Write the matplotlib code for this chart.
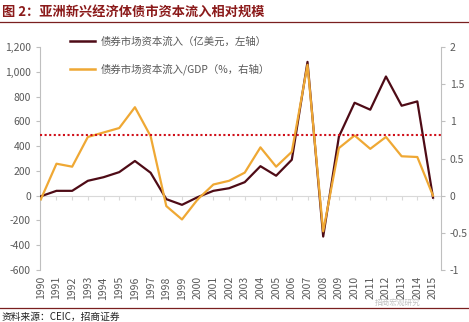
import matplotlib
matplotlib.use('Agg')
import matplotlib.pyplot as plt
from matplotlib.lines import Line2D
from matplotlib.ticker import FuncFormatter

plt.rcParams['font.family'] = ['Noto Sans CJK SC', 'DejaVu Sans']

years = list(range(1990, 2016))
# bond market capital inflow, 100 million USD (left axis)
inflow = [-5, 39, 39, 120, 149, 190, 280, 185, -28, -74, -12, 39, 60, 109,
          238, 161, 290, 1080, -330, 476, 750, 694, 962, 726, 761, -16]
# bond market capital inflow / GDP, % (right axis)
inflow_gdp = [-0.05, 0.43, 0.39, 0.79, 0.85, 0.91, 1.19, 0.80, -0.14, -0.32,
              -0.05, 0.15, 0.20, 0.31, 0.65, 0.39, 0.59, 1.76, -0.48, 0.64,
              0.81, 0.63, 0.79, 0.53, 0.52, 0.0]
ref_level = 490

label_left = '债券市场资本流入（亿美元，左轴）'
label_right = '债券市场资本流入/GDP（%，右轴）'
title = '图 2：亚洲新兴经济体债市资本流入相对规模'
source = '资料来源：CEIC，招商证券'

dark = '#4E0B16'
gold = '#EFA834'
grey = '#BFBFBF'
tick_col = '#595959'

fig = plt.figure(figsize=(4.69, 3.22), dpi=100)
ax = fig.add_axes([0.0853, 0.1615, 0.8547, 0.6925])
ax2 = ax.twinx()

ax.plot(years, inflow, color=dark, lw=1.6, zorder=3)
ax2.plot(years, inflow_gdp, color=gold, lw=1.6, zorder=3)
ax2.axhline(ref_level / 600, color='#D0101A', lw=1.5, ls=(0, (1, 1.2)), zorder=4)

ax.set_xlim(1989.95, 2015.5)
ax.set_ylim(-600, 1200)
ax2.set_ylim(-1, 2)
ax.set_yticks(range(-600, 1201, 200))
ax2.set_yticks([-1, -0.5, 0, 0.5, 1, 1.5, 2])
ax.yaxis.set_major_formatter(FuncFormatter(lambda v, p: f'{int(v):,}'))
ax2.yaxis.set_major_formatter(FuncFormatter(lambda v, p: f'{v:g}'))

for a in (ax, ax2):
    a.spines['top'].set_visible(False)
    a.patch.set_visible(False)
ax.spines['right'].set_visible(False)
ax2.spines['bottom'].set_visible(False)
ax2.spines['left'].set_visible(False)
ax.spines['left'].set_color(grey)
ax2.spines['right'].set_color(grey)
ax.spines['bottom'].set_position(('data', 0))
ax.spines['bottom'].set_color('#D9D9D9')

ax.set_xticks(years)
ax.set_xticklabels([str(y) for y in years], rotation=90, va='top')
ax.tick_params(axis='x', direction='out', length=3, color='#D9D9D9',
               labelsize=7.5, labelcolor=tick_col, pad=55)
ax.tick_params(axis='y', direction='out', length=3, color=grey,
               labelsize=7.5, labelcolor=tick_col)
ax2.tick_params(axis='y', direction='out', length=3, color=grey,
                labelsize=7.5, labelcolor=tick_col)

handles = [Line2D([], [], color=dark, lw=1.8), Line2D([], [], color=gold, lw=1.8)]
fig.legend(handles, [label_left, label_right], loc='upper left',
           bbox_to_anchor=(0.13, 0.915), frameon=False, fontsize=7.5,
           labelcolor=tick_col, handlelength=2.4, labelspacing=1.6,
           handletextpad=0.5)

fig.text(0.004, 0.985, title, ha='left', va='top', fontsize=9.5,
         fontweight='bold', color='#8B1A1A')
fig.add_artist(Line2D([0, 1], [0.932, 0.932], color='#7A1F1F', lw=0.9))
fig.add_artist(Line2D([0, 1], [0.045, 0.045], color='#7A1F1F', lw=0.9))
fig.text(0.004, 0.0, source, ha='left', va='bottom', fontsize=7, color='#222222')
# faint watermark, kept just under the year labels
fig.text(0.80, 0.048, '招商宏观研究', ha='left', va='bottom', fontsize=5.5,
         color='#9A9A9A', alpha=0.6)

fig.savefig('out.png', dpi=100)
